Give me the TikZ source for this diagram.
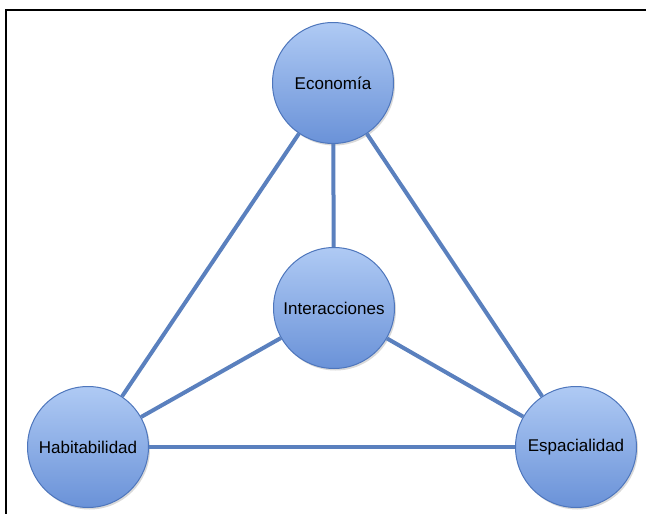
\documentclass[tikz,border=0pt]{standalone}
\usepackage{fontspec}
\setmainfont{Liberation Sans}
\usepackage{tikz}
\usetikzlibrary{graphs,shadows}
\definecolor{ballTop}{HTML}{AFCAF4}
\definecolor{ballBottom}{HTML}{6A92D8}
\definecolor{ballEdge}{HTML}{4E76BC}
\definecolor{linkBlue}{HTML}{5A80BE}
\tikzset{
    ball/.style ={
        shape=circle,
        draw=ballEdge,
        line width=1pt,
        top color=ballTop,
        bottom color=ballBottom,
        text=black,
        minimum size=121pt,
        inner sep=0pt,
        font=\fontsize{17}{20}\selectfont,
        drop shadow={shadow xshift=1.5pt,shadow yshift=-2pt,opacity=0.25,fill=black!60}
    },
    link/.style ={
        draw=linkBlue,
        line width=4pt
    }
}

\begin{document}
\begin{tikzpicture}[x=1pt,y=-1pt]
    \useasboundingbox (0,0) rectangle (646,514);
    \draw[line width=2pt] (6,514) -- (6,10) -- (646,10);
    \node[ball] (eco) at(333,83) {Econom\'ia};
    \node[ball] (inter) at(334,308) {Interacciones};
    \node[ball] (hab) at(88,447) {Habitabilidad};
    \node[ball] (esp) at(576,447) {Espacialidad};
    \graph[edges=link]{
        (eco)--(hab);
        (eco)--(esp);
        (eco)--(inter);
        (inter)--(hab);
        (inter)--(esp);
        (hab)--(esp);
    };
\end{tikzpicture}
\end{document}
